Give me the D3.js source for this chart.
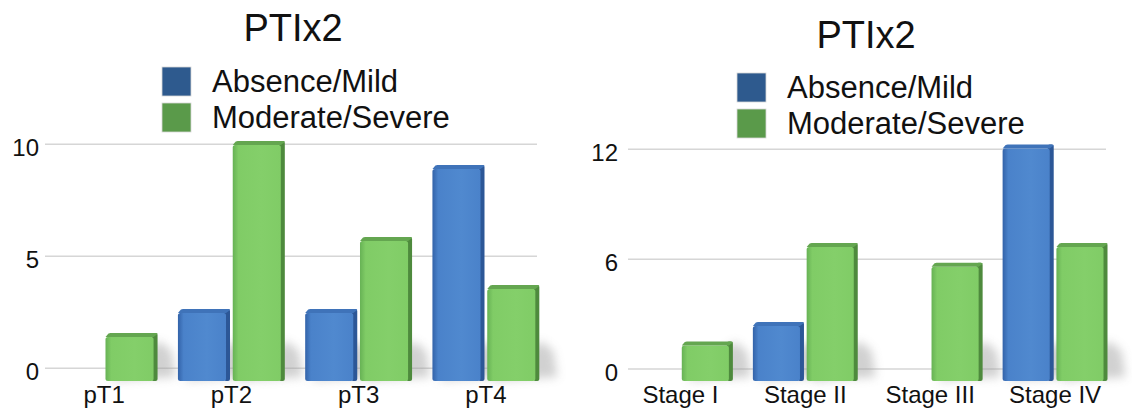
<!DOCTYPE html>
<html>
<head>
<meta charset="utf-8">
<script src="https://cdn.jsdelivr.net/npm/d3@7"></script>
<style>
  html, body { margin: 0; padding: 0; background: #ffffff; }
  svg { display: block; font-family: "Liberation Sans", Arial, Helvetica, sans-serif; }
</style>
</head>
<body>
<svg id="chart" width="1132" height="414"></svg>
<script>
// ---- data ----
const chartTitle = "PTIx2";
const seriesNames = ["Absence/Mild", "Moderate/Severe"];

const tumorCategories = ["pT1", "pT2", "pT3", "pT4"];
const tumorAbsenceMild = [0, 3, 3, 9];
const tumorModerateSevere = [2, 10, 6, 4];
const tumorTicks = [0, 5, 10];

const stageCategories = ["Stage I", "Stage II", "Stage III", "Stage IV"];
const stageAbsenceMild = [0, 3, 0, 12];
const stageModerateSevere = [2, 7, 6, 7];
const stageTicks = [0, 6, 12];

// ---- styling ----
const palette = {
  blue:  { swatch: "#2e5a8e", dark: "#3363a9", mid: "#4a82ca", light: "#5089cf", side: "#2c5797", top: "#3f73b9" },
  green: { swatch: "#5a9a4a", dark: "#67b255", mid: "#80cc66", light: "#84cf6a", side: "#4e8a3d", top: "#64a650" }
};
const seriesColors = [palette.blue, palette.green];

const svg = d3.select("#chart");
const defs = svg.append("defs");

// horizontal shading for the front face of each bar colour
seriesColors.forEach((c, i) => {
  const g = defs.append("linearGradient")
    .attr("id", "front" + i).attr("x1", "0").attr("x2", "1").attr("y1", "0").attr("y2", "0");
  g.append("stop").attr("offset", "0").attr("stop-color", c.dark);
  g.append("stop").attr("offset", "0.12").attr("stop-color", c.mid);
  g.append("stop").attr("offset", "0.6").attr("stop-color", c.light);
  g.append("stop").attr("offset", "1").attr("stop-color", c.mid);
});
defs.append("filter").attr("id", "soft")
  .attr("x", "-50%").attr("y", "-50%").attr("width", "200%").attr("height", "200%")
  .append("feGaussianBlur").attr("stdDeviation", 5);

function drawPanel(cfg) {
  const g = svg.append("g");

  // value scales: one for the grid / axis plane, one for the extruded bars
  const gridY = d3.scaleLinear().domain(cfg.domain).range(cfg.gridRange);
  const barY = d3.scaleLinear().domain(cfg.domain).range(cfg.barRange);

  const x0 = d3.scaleBand().domain(cfg.categories).range(cfg.xRange)
    .paddingInner(0.16).paddingOuter(0.08);
  const x1 = d3.scaleBand().domain(seriesNames).range([0, x0.bandwidth()]).paddingInner(0.05);

  // grid lines + left axis labels
  const axis = d3.axisLeft(gridY).tickValues(cfg.ticks).tickSize(0).tickPadding(0);
  const axisG = g.append("g").attr("transform", `translate(${cfg.labelX},0)`).call(axis);
  axisG.attr("font-size", null).attr("font-family", null);
  axisG.select(".domain").remove();
  axisG.selectAll(".tick text")
    .attr("font-size", 24).attr("fill", "#111").attr("dy", "0.72em")
    .attr("y", -6);
  g.append("g").selectAll("line").data(cfg.ticks).join("line")
    .attr("x1", cfg.gridX[0]).attr("x2", cfg.gridX[1])
    .attr("y1", d => gridY(d)).attr("y2", d => gridY(d))
    .attr("stroke", "#d6d6d6").attr("stroke-width", 1.5);

  // bar records
  const rows = [];
  cfg.categories.forEach((cat, i) => {
    [cfg.seriesA[i], cfg.seriesB[i]].forEach((v, s) => {
      if (v > 0) rows.push({ cat, s, v });
    });
  });

  const base = barY(0);
  const depth = 4;

  // floor shadows
  g.append("g").selectAll("path").data(rows).join("path")
    .attr("d", d => {
      const left = x0(d.cat) + x1(seriesNames[d.s]) + 4;
      const w = x1.bandwidth();
      const top = Math.max(barY(d.v), base - 40);
      return `M${left},${base} L${left + w + 14},${base - 4} L${left + w + 10},${top + 10} L${left + w - 2},${top} Z`;
    })
    .attr("fill", "#9a9a9a").attr("opacity", 0.45).attr("filter", "url(#soft)");

  const bars = g.append("g").selectAll("g").data(rows).join("g")
    .attr("transform", d => `translate(${x0(d.cat) + x1(seriesNames[d.s])},0)`);
  const w = x1.bandwidth();

  // right side face
  bars.append("rect")
    .attr("x", w - depth - 2).attr("width", depth + 2)
    .attr("y", d => barY(d.v)).attr("height", d => base - barY(d.v))
    .attr("rx", 2).attr("fill", d => seriesColors[d.s].side);
  // front face
  bars.append("rect")
    .attr("x", 0).attr("width", w - depth)
    .attr("y", d => barY(d.v) + depth).attr("height", d => base - barY(d.v) - depth)
    .attr("rx", 2.5).attr("fill", d => `url(#front${d.s})`);
  // top face
  bars.append("path")
    .attr("d", d => {
      const t = barY(d.v);
      return `M0,${t + depth} L${depth - 1},${t + 0.5} Q${depth},${t} ${depth + 1},${t} L${w - 2},${t} Q${w},${t} ${w},${t + 1} L${w - depth},${t + depth} Z`;
    })
    .attr("fill", d => seriesColors[d.s].top);

  // category labels
  g.append("g").selectAll("text").data(cfg.categories).join("text")
    .attr("x", d => x0(d) + x0.bandwidth() / 2)
    .attr("y", 403)
    .attr("text-anchor", "middle")
    .attr("font-size", 24).attr("fill", "#111")
    .text(d => d);

  // title
  g.append("text")
    .attr("x", cfg.titleX).attr("y", cfg.titleY)
    .attr("text-anchor", "middle").attr("font-size", 38).attr("fill", "#111")
    .text(chartTitle);

  // legend
  const leg = g.append("g").attr("transform", `translate(${cfg.legendX},${cfg.legendY})`);
  seriesNames.forEach((name, i) => {
    leg.append("rect")
      .attr("x", 0).attr("y", i * 36).attr("width", 29).attr("height", 29)
      .attr("fill", seriesColors[i].swatch).attr("stroke", "#d8d8d8").attr("stroke-width", 0.8);
    leg.append("text")
      .attr("x", 50).attr("y", i * 36 + 25)
      .attr("font-size", 31).attr("fill", "#111")
      .text(name);
  });
}

drawPanel({
  categories: tumorCategories, seriesA: tumorAbsenceMild, seriesB: tumorModerateSevere,
  ticks: tumorTicks, domain: [0, 10],
  gridRange: [368.3, 144.3], barRange: [381, 141],
  xRange: [40.5, 549.5], gridX: [45, 537], labelX: 39,
  titleX: 293, titleY: 41, legendX: 162, legendY: 67
});

drawPanel({
  categories: stageCategories, seriesA: stageAbsenceMild, seriesB: stageModerateSevere,
  ticks: stageTicks, domain: [0, 12],
  gridRange: [369, 149.3], barRange: [381, 144.6],
  xRange: [618, 1117.5], gridX: [628, 1106], labelX: 618,
  titleX: 866, titleY: 48, legendX: 737, legendY: 73
});
</script>
</body>
</html>
